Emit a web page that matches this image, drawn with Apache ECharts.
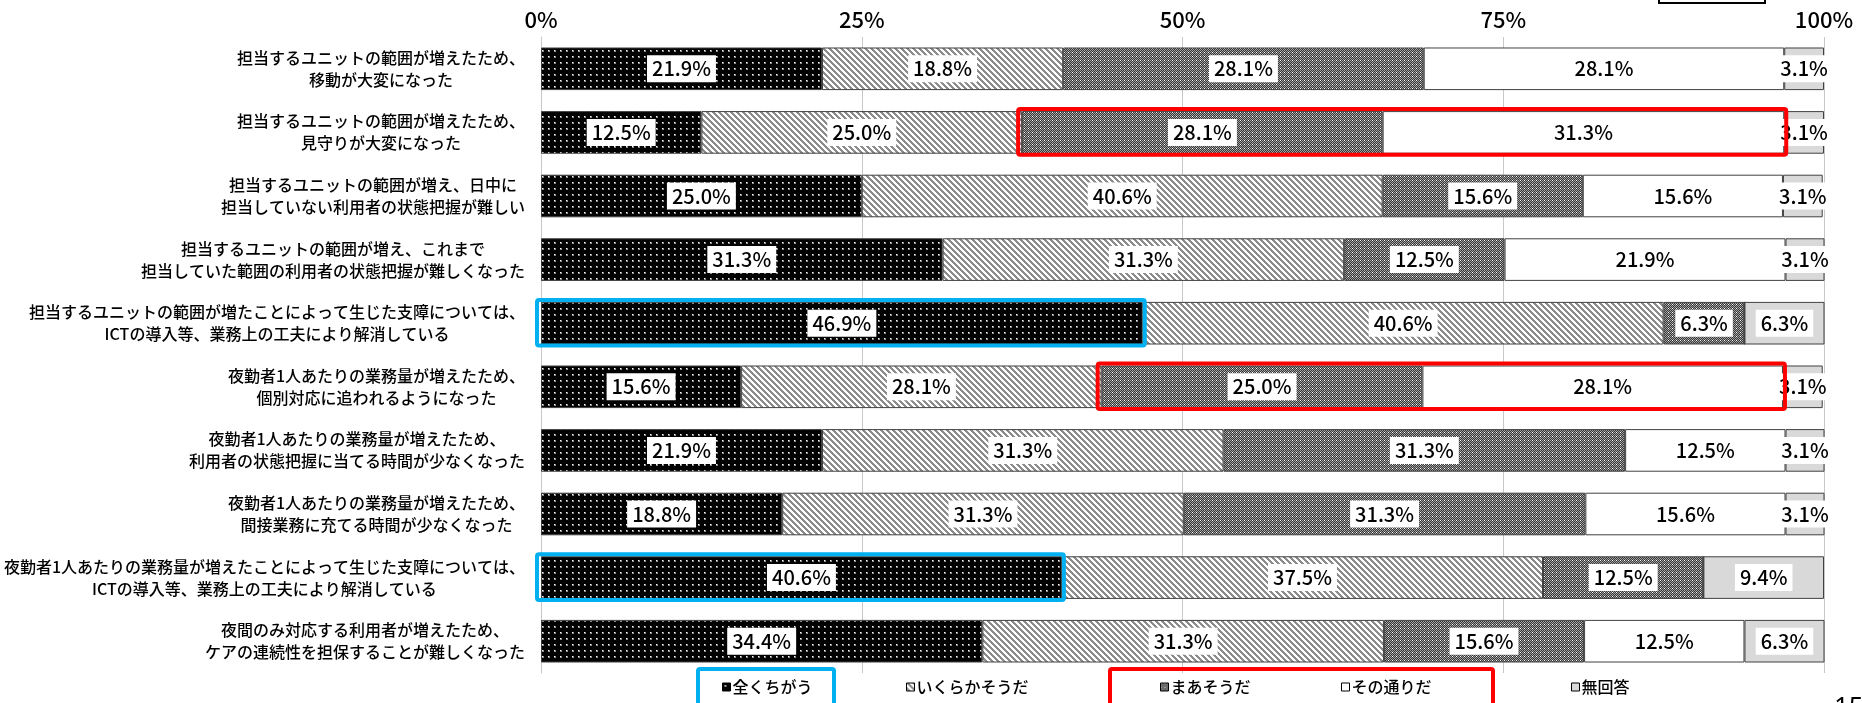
<!DOCTYPE html>
<html>
<head>
<meta charset="utf-8">
<script src="https://cdn.jsdelivr.net/npm/echarts@6/dist/echarts.min.js"></script>
<style>html,body{margin:0;padding:0;background:#fff}#chart{width:1862px;height:703px}</style>
</head>
<body>
<div id="chart"></div>
<script>
const categories = [
    '担当するユニットの範囲が増えたため、\n移動が大変になった',
    '担当するユニットの範囲が増えたため、\n見守りが大変になった',
    '担当するユニットの範囲が増え、日中に\n担当していない利用者の状態把握が難しい',
    '担当するユニットの範囲が増え、これまで\n担当していた範囲の利用者の状態把握が難しくなった',
    '担当するユニットの範囲が増たことによって生じた支障については、\nICTの導入等、業務上の工夫により解消している',
    '夜勤者1人あたりの業務量が増えたため、\n個別対応に追われるようになった',
    '夜勤者1人あたりの業務量が増えたため、\n利用者の状態把握に当てる時間が少なくなった',
    '夜勤者1人あたりの業務量が増えたため、\n間接業務に充てる時間が少なくなった',
    '夜勤者1人あたりの業務量が増えたことによって生じた支障については、\nICTの導入等、業務上の工夫により解消している',
    '夜間のみ対応する利用者が増えたため、\nケアの連続性を担保することが難しくなった'
]
const seriesNames = ['全くちがう', 'いくらかそうだ', 'まあそうだ', 'その通りだ', '無回答']
const zenkuChigau = [21.9, 12.5, 25.0, 31.3, 46.9, 15.6, 21.9, 18.8, 40.6, 34.4]
const ikurakaSouda = [18.8, 25.0, 40.6, 31.3, 40.6, 28.1, 31.3, 31.3, 37.5, 31.3]
const maaSouda = [28.1, 28.1, 15.6, 12.5, 6.3, 25.0, 31.3, 31.3, 12.5, 15.6]
const sonoToori = [28.1, 31.3, 15.6, 21.9, 0, 28.1, 12.5, 15.6, 0, 12.5]
const mukaitou = [3.1, 3.1, 3.1, 3.1, 6.3, 3.1, 3.1, 3.1, 9.4, 6.3]
const allValues = [zenkuChigau, ikurakaSouda, maaSouda, sonoToori, mukaitou]
const xTicks = [0, 25, 50, 75, 100]

// 強調枠: [行, 開始系列, 終了系列, 色]
const highlights = [
    [1, 2, 3, '#ff0000'],
    [4, 0, 0, '#00b0f0'],
    [5, 2, 3, '#ff0000'],
    [8, 0, 0, '#00b0f0']
]

const FONT = '"Noto Sans CJK JP", "Noto Sans", sans-serif'
const WEIGHT = 500

const makePattern = (size, draw) => {
    const c = document.createElement('canvas')
    c.width = size
    c.height = size
    const ctx = c.getContext('2d')
    draw(ctx)
    return {image: c, repeat: 'repeat'}
}

// 黒地に白ドット
const dotPattern = makePattern(6, ctx => {
    ctx.fillStyle = '#000'
    ctx.fillRect(0, 0, 6, 6)
    ctx.fillStyle = '#8a8a8a'
    ctx.fillRect(2, 2, 2, 2)
    ctx.fillStyle = '#fff'
    ctx.fillRect(2, 2, 1, 1)
})
// 斜線
const hatchPattern = makePattern(6, ctx => {
    ctx.fillStyle = '#fff'
    ctx.fillRect(0, 0, 6, 6)
    ctx.fillStyle = '#8c8c8c'
    for (let y = 0; y < 6; y++) {
        for (let x = 0; x < 6; x++) {
            const d = ((x - y) % 6 + 6) % 6
            if (d < 3) ctx.fillRect(x, y, 1, 1)
        }
    }
})
// 細かい市松
const checkPattern = makePattern(4, ctx => {
    ctx.fillStyle = '#383838'
    ctx.fillRect(0, 0, 4, 4)
    ctx.fillStyle = '#a0a0a0'
    for (let y = 0; y < 4; y++) {
        for (let x = 0; x < 4; x++) {
            if ((x + y) % 2 === 0) ctx.fillRect(x, y, 1, 1)
        }
    }
    ctx.fillStyle = '#fff'
    ctx.fillRect(0, 0, 1, 1)
})
const fills = [dotPattern, hatchPattern, checkPattern, '#ffffff', '#d9d9d9']

const legendLefts = [722, 906, 1160, 1341, 1571]

const chart = echarts.init(document.getElementById('chart'))

const option = {
    animation: false,
    backgroundColor: '#fff',
    textStyle: {fontFamily: FONT},
    grid: {left: 541, right: 38, top: 37, bottom: 30},
    legend: seriesNames.map((name, i) => ({
        data: [name],
        left: legendLefts[i],
        top: 679,
        padding: 0,
        icon: 'rect',
        itemWidth: 8,
        itemHeight: 8,
        itemStyle: {borderColor: '#000', borderWidth: 1},
        textStyle: {fontSize: 16, color: '#000', fontFamily: FONT, fontWeight: WEIGHT, padding: [0, 0, 0, -3]}
    })),
    xAxis: {
        type: 'value',
        position: 'top',
        min: 0,
        max: 100,
        interval: 25,
        axisLine: {show: false},
        axisTick: {show: false},
        axisLabel: {
            margin: 6,
            fontSize: 22,
            color: '#000',
            fontFamily: FONT,
            fontWeight: WEIGHT,
            formatter: v => xTicks.includes(v) ? v + '%' : ''
        },
        splitLine: {show: true, lineStyle: {color: '#c8c8c8', width: 1}}
    },
    yAxis: {
        type: 'category',
        inverse: true,
        data: categories,
        axisTick: {show: false},
        axisLine: {show: true, lineStyle: {color: '#c8c8c8'}},
        axisLabel: {
            margin: 16,
            color: '#000',
            fontSize: 16,
            lineHeight: 22,
            fontFamily: FONT,
            formatter: v => v.split('\n').map(s => '{c|' + s + '}').join('\n'),
            rich: {c: {align: 'center', fontSize: 16, lineHeight: 22, fontFamily: FONT, fontWeight: WEIGHT, color: '#000'}}
        }
    },
    series: seriesNames.map((name, i) => ({
        name: name,
        type: 'bar',
        stack: 'total',
        barWidth: '67%',
        itemStyle: {color: fills[i], borderColor: '#404040', borderWidth: 1},
        label: {
            show: true,
            position: 'inside',
            color: '#000',
            fontSize: 20,
            fontFamily: FONT,
            fontWeight: WEIGHT,
            backgroundColor: '#fff',
            padding: [4, 5, 3, 5],
            formatter: p => p.value.toFixed(1) + '%'
        },
        data: allValues[i].map(v => v === 0 ? {value: 0, label: {show: false}} : v)
    }))
}

chart.setOption(option)

// 強調枠を座標系から計算
const band = chart.convertToPixel({yAxisIndex: 0}, 1) - chart.convertToPixel({yAxisIndex: 0}, 0)
const halfBar = band * 0.335
const graphics = highlights.map(([row, from, to, color]) => {
    let start = 0
    for (let s = 0; s < from; s++) start += allValues[s][row]
    let end = start
    for (let s = from; s <= to; s++) end += allValues[s][row]
    const x0 = chart.convertToPixel({xAxisIndex: 0}, start)
    const x1 = chart.convertToPixel({xAxisIndex: 0}, end)
    const yc = chart.convertToPixel({yAxisIndex: 0}, row)
    return {
        type: 'rect',
        z: 100,
        shape: {x: x0 - 4, y: yc - halfBar - 2, width: x1 - x0 + 6, height: halfBar * 2 + 3, r: 2},
        style: {fill: 'none', stroke: color, lineWidth: 4}
    }
})
graphics.push(
    {type: 'rect', z: 100, shape: {x: 698, y: 669, width: 136, height: 40, r: 2},
        style: {fill: 'none', stroke: '#00b0f0', lineWidth: 4}},
    {type: 'rect', z: 100, shape: {x: 1110, y: 669, width: 383, height: 40, r: 2},
        style: {fill: 'none', stroke: '#ff0000', lineWidth: 4}},
    {type: 'rect', z: 100, shape: {x: 1659, y: -12, width: 106, height: 15},
        style: {fill: 'none', stroke: '#000', lineWidth: 2}},
    {type: 'text', z: 100, x: 1834, y: 695,
        style: {text: '15', fill: '#000', font: '26px "Noto Sans"', verticalAlign: 'top'}}
)
chart.setOption({graphic: graphics})
</script>
</body>
</html>
